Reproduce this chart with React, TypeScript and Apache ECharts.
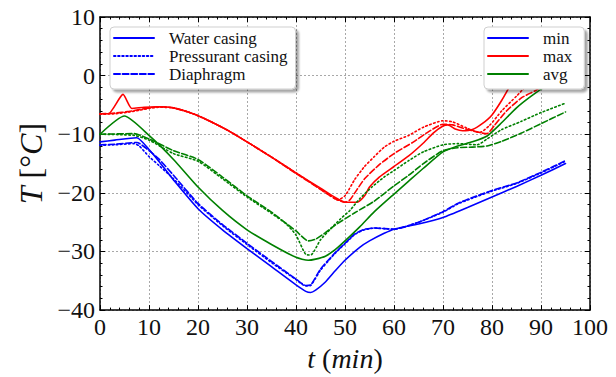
import React, { useEffect, useRef } from "react";
import * as echarts from "echarts";

// ---- data (t in min, T in °C) ----
const xTicks = [0, 10, 20, 30, 40, 50, 60, 70, 80, 90, 100];
const yTicks = [-40, -30, -20, -10, 0, 10];

// min (blue)
const tMinWater = [0, 3, 7.5, 10, 12, 15, 20, 25, 30, 35, 40, 42, 43, 44, 46, 48, 50, 53, 55, 58, 60, 65, 70, 75, 80, 85, 90, 95];
const TMinWater = [-11.3, -11.0, -10.6, -12.6, -14.6, -17.8, -22.7, -26.3, -29.5, -32.6, -35.7, -36.8, -37.0, -36.6, -35.2, -33.3, -31.5, -29.3, -28.2, -26.9, -26.2, -25.3, -24.2, -22.5, -20.7, -18.9, -17.0, -15.0];
const tMinPress = [0, 3, 7, 8, 10, 12, 15, 20, 25, 30, 35, 40, 42, 43, 45, 48, 50, 52, 54, 56, 58, 60, 65, 70, 73, 76, 80, 85, 90, 95];
const TMinPress = [-11.9, -11.8, -11.6, -12.0, -13.8, -15.3, -17.6, -22.0, -25.6, -28.8, -31.9, -34.8, -35.9, -35.8, -33.2, -30.3, -28.7, -27.1, -26.3, -26.0, -26.1, -26.2, -25.0, -23.3, -21.9, -20.9, -19.7, -18.4, -16.6, -14.6];
const tMinDiaph = [0, 3, 7.5, 10, 12, 15, 20, 25, 30, 35, 40, 42, 43, 45, 48, 50, 52, 54, 56, 58, 60, 65, 70, 73, 76, 80, 85, 90, 95];
const TMinDiaph = [-11.8, -11.7, -11.4, -12.8, -14.2, -17.0, -21.8, -25.4, -28.6, -31.7, -34.7, -35.8, -35.7, -33.0, -30.2, -28.6, -27.0, -26.2, -26.0, -26.1, -26.2, -25.0, -23.2, -21.8, -20.8, -19.6, -18.3, -16.5, -14.5];

// max (red)
const tMaxWater = [0, 1.7, 4.7, 6.5, 9, 12, 15, 19, 22, 26, 30, 35, 40, 45, 48, 50, 52.5, 54, 55, 57, 60, 63, 66, 68, 70, 71, 72.5, 74, 76, 78, 80, 82, 84, 86, 90, 95];
const TMaxWater = [-6.5, -6.5, -3.2, -5.6, -5.4, -5.3, -5.5, -6.5, -7.6, -9.3, -11.3, -13.9, -16.6, -19.2, -20.8, -21.6, -21.6, -20.5, -19.0, -17.3, -15.5, -13.7, -11.5, -9.8, -8.6, -8.4, -9.1, -9.4, -9.2, -8.2, -6.7, -4.2, -1.3, 1.0, 4.0, 6.0];
const tMaxPress = [0, 3, 6, 8, 10, 12, 15, 19, 22, 26, 30, 35, 40, 44, 47, 48.5, 50, 52, 54, 56, 58, 60, 63, 66, 70, 72, 75, 77.5, 79.5, 82, 85, 87, 90, 95];
const TMaxPress = [-6.6, -6.5, -6.2, -5.9, -5.6, -5.4, -5.5, -6.5, -7.6, -9.3, -11.3, -13.9, -16.6, -18.8, -20.5, -21.2, -20.5, -17.7, -15.5, -13.8, -12.2, -11.2, -10.2, -8.8, -7.7, -7.9, -9.0, -9.7, -8.5, -6.0, -3.5, -1.8, -0.5, 2.0];
const tMaxDiaph = [0, 3, 6, 8, 10, 12, 15, 19, 22, 26, 30, 35, 40, 45, 48, 50, 51, 52, 54, 57, 60, 64, 67, 70, 72, 75, 78, 79, 80.5, 83, 86, 89, 92, 95];
const TMaxDiaph = [-6.5, -6.4, -6.1, -5.8, -5.5, -5.3, -5.5, -6.5, -7.6, -9.3, -11.3, -13.9, -16.7, -19.4, -21.0, -21.6, -21.2, -20.0, -17.6, -15.2, -13.3, -11.3, -9.6, -8.3, -8.4, -9.2, -9.8, -9.9, -8.5, -6.0, -3.8, -2.5, -1.0, 0.5];

// avg (green)
const tAvgWater = [0, 5, 10, 15, 20, 25, 30, 35, 40, 42.5, 44, 46, 48, 50, 53, 56, 60, 63, 66, 70, 73, 76, 79, 82, 85, 88, 91, 95];
const TAvgWater = [-10.0, -6.9, -10.2, -14.3, -19.0, -23.0, -26.3, -28.8, -31.0, -31.5, -31.3, -30.8, -29.7, -28.2, -25.8, -23.2, -20.2, -18.0, -15.8, -13.0, -12.0, -11.3, -10.3, -8.0, -5.5, -3.5, -1.8, 0.0];
const tAvgPress = [0, 7, 10, 15, 20, 25, 30, 35, 38, 40, 42, 43, 45, 47, 49, 51, 53, 55.5, 58, 60, 63, 66, 70, 73, 77, 79, 82, 86, 90, 95];
const TAvgPress = [-10.0, -10.2, -11.0, -13.3, -14.6, -17.6, -20.7, -23.5, -25.3, -27.2, -30.5, -30.6, -28.0, -26.2, -24.5, -23.0, -21.0, -19.0, -17.3, -16.2, -14.5, -13.0, -11.8, -11.6, -11.8, -10.8, -9.2, -7.8, -6.3, -4.7];
const tAvgDiaph = [0, 7, 10, 15, 20, 25, 30, 35, 40, 42.5, 44, 46, 48, 52, 56, 60, 63, 66, 70, 73, 76, 79, 82, 86, 90, 95];
const TAvgDiaph = [-10.0, -9.9, -10.8, -12.8, -14.3, -17.3, -20.5, -23.3, -26.5, -28.2, -27.9, -26.8, -25.5, -23.4, -21.4, -18.8, -17.0, -15.0, -12.8, -12.3, -12.2, -12.0, -11.2, -9.8, -8.2, -6.2];

const styleNames = ["Water casing", "Pressurant casing", "Diaphragm"];
const statNames = ["min", "max", "avg"];

const BLUE = "#0000ff";
const RED = "#ff0000";
const GREEN = "#008000";
const SERIF = "'Liberation Serif', 'DejaVu Serif', serif";
const DOTTED = [1.5, 2.6];
const DASHED = [6, 2.6];

const zip = (t: number[], v: number[]) => t.map((x, i) => [x, v[i]]);
const fmt = (v: number) => (v < 0 ? "\u2212" + -v : String(v));

function line(name: string, color: string, type: any, t: number[], v: number[]) {
  return {
    name,
    type: "line",
    data: zip(t, v),
    symbol: "none",
    showSymbol: false,
    smooth: 0.2,
    xAxisIndex: 0,
    yAxisIndex: 0,
    lineStyle: { color, width: 1.6, type, cap: "round" },
    itemStyle: { color },
    z: 3,
  };
}

export default function App() {
  const ref = useRef<HTMLDivElement>(null);
  useEffect(() => {
    if (!ref.current) return;
    const chart = echarts.init(ref.current, undefined, { renderer: "svg" });
    const axisCommon = {
      type: "value",
      axisLine: { show: true, onZero: false, lineStyle: { color: "#000", width: 1.5 } },
      axisTick: { show: true, inside: true, length: 5, lineStyle: { color: "#000", width: 1 } },
      minorTick: { show: true, splitNumber: 5, length: 2.5, lineStyle: { color: "#000", width: 1 } },
    };
    const labelStyle = { fontFamily: SERIF, fontSize: 24, color: "#111" };
    const nameRich = (size: number) => ({
      fontFamily: SERIF,
      fontSize: size,
      color: "#111",
      rich: { i: { fontFamily: SERIF, fontSize: size, fontStyle: "italic", color: "#111" } },
    });
    const legendCommon = {
      orient: "vertical",
      top: 27,
      itemWidth: 40,
      itemHeight: 10,
      itemGap: 0,
      backgroundColor: "#fff",
      borderColor: "#cfcfcf",
      borderWidth: 1,
      borderRadius: 4,
      shadowColor: "rgba(0,0,0,0.35)",
      shadowBlur: 2,
      shadowOffsetX: 3,
      shadowOffsetY: 3,
      itemStyle: { opacity: 0, color: "transparent", borderColor: "transparent", borderWidth: 0 },
      textStyle: { fontFamily: SERIF, fontSize: 17, color: "#111", lineHeight: 18, padding: [0, 0, 0, 10] },
      selectedMode: false,
    };
    chart.setOption({
      animation: false,
      backgroundColor: "#fff",
      grid: { left: 100, right: 26, top: 17, bottom: 60, containLabel: false },
      xAxis: [
        {
          ...axisCommon,
          position: "bottom",
          min: xTicks[0],
          max: xTicks[xTicks.length - 1],
          interval: 10,
          splitLine: { show: true, lineStyle: { color: "#a8a8a8", width: 1, type: [2, 2] } },
          axisLabel: { ...labelStyle, margin: 5, formatter: fmt },
          name: "{i|t} ({i|min})",
          nameLocation: "middle",
          nameGap: 29,
          nameTextStyle: nameRich(28),
        },
        {
          ...axisCommon,
          position: "top",
          min: xTicks[0],
          max: xTicks[xTicks.length - 1],
          interval: 10,
          splitLine: { show: false },
          axisLabel: { show: false },
        },
      ],
      yAxis: [
        {
          ...axisCommon,
          position: "left",
          min: yTicks[0],
          max: yTicks[yTicks.length - 1],
          interval: 10,
          splitLine: { show: true, lineStyle: { color: "#a8a8a8", width: 1, type: [2, 2] } },
          axisLabel: { ...labelStyle, margin: 5, formatter: fmt },
          name: "{i|T} [°{i|C}]",
          nameLocation: "middle",
          nameRotate: 90,
          nameGap: 50,
          nameTextStyle: nameRich(32),
        },
        {
          ...axisCommon,
          position: "right",
          min: yTicks[0],
          max: yTicks[yTicks.length - 1],
          interval: 10,
          splitLine: { show: false },
          axisLabel: { show: false },
        },
      ],
      legend: [
        { ...legendCommon, left: 110, padding: [2, 8, 6, 3], data: styleNames },
        { ...legendCommon, left: 484, padding: [2, 12, 6, 3], data: statNames },
      ],
      series: [
        line(styleNames[0], BLUE, "solid", tMinWater, TMinWater),
        line(styleNames[1], BLUE, DOTTED, tMinPress, TMinPress),
        line(styleNames[2], BLUE, DASHED, tMinDiaph, TMinDiaph),
        line(statNames[0], BLUE, "solid", [], []),
        line(statNames[1], RED, "solid", tMaxWater, TMaxWater),
        line("max pressurant", RED, DOTTED, tMaxPress, TMaxPress),
        line("max diaphragm", RED, DASHED, tMaxDiaph, TMaxDiaph),
        line(statNames[2], GREEN, "solid", tAvgWater, TAvgWater),
        line("avg pressurant", GREEN, DOTTED, tAvgPress, TAvgPress),
        line("avg diaphragm", GREEN, DASHED, tAvgDiaph, TAvgDiaph),
      ],
    });
    return () => chart.dispose();
  }, []);
  return (
    <div
      ref={ref}
      style={{ position: "absolute", left: 0, top: 0, width: 616, height: 377, background: "#fff" }}
    />
  );
}
